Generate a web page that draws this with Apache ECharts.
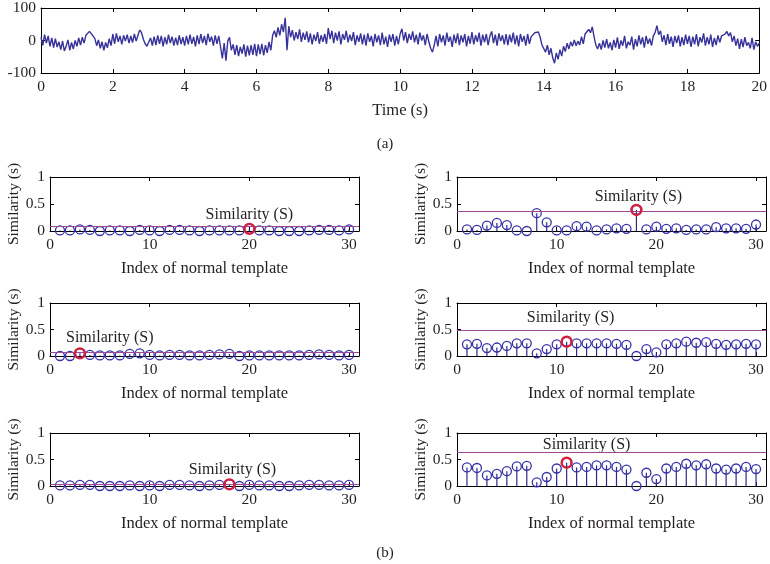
<!DOCTYPE html>
<html><head><meta charset="utf-8">
<script src="https://cdn.jsdelivr.net/npm/echarts@6/dist/echarts.min.js"></script>
<style>html,body{margin:0;padding:0;background:#fff}#c{width:770px;height:564px}</style>
</head><body><div id="c"></div>
<script>
// ---- Data ----
const signalStep = 0.05; // seconds between samples
const signal = [
 10,-15,18,-8,14,-18,8,-22,6,-20,-4,-28,-2,-32,-18,2,-30,-6,-26,0,
 -18,8,-14,10,-8,16,12,28,30,14,6,-16,2,-24,-4,-30,-6,-22,6,-16,
 20,-10,22,-4,14,-12,16,-2,18,-8,14,-6,20,-2,16,32,24,4,-10,-18,
 -20,8,-16,12,-14,16,-10,14,-18,10,-12,18,-8,12,-16,9,-14,16,-11,10,
 -16,14,-12,18,-10,11,-18,16,-11,20,-8,14,-14,21,-4,12,-16,16,-10,14,
 -20,-55,-8,-62,-2,10,-30,-12,-44,-14,-48,-20,-40,-12,-50,-16,-46,-14,-44,-10,
 -48,-12,-42,-10,-46,-14,-38,-4,-30,16,30,10,40,16,50,26,70,-30,44,10,
 32,0,26,4,34,-4,24,2,28,-6,22,-12,18,-2,26,-10,16,-4,20,-10,
 38,4,30,-8,24,0,28,-12,20,2,30,-6,18,-2,26,-14,16,-4,22,-12,
 18,-16,22,-4,14,-18,20,-6,16,-14,24,-12,12,-20,18,-4,20,-16,14,-12,
 20,36,0,26,-8,20,2,28,-6,18,-12,24,0,16,-14,20,-4,-24,-36,-14,
 14,-18,20,-6,16,-16,24,-4,12,-20,18,-8,22,-14,16,-6,20,-18,14,-10,
 26,-12,16,-4,24,-16,18,-6,20,-14,14,28,-8,18,-16,22,-2,16,-12,20,
 -14,18,-6,24,-12,16,-18,20,-4,14,-16,20,-10,12,16,24,18,26,10,-14,
 -20,-36,-14,-44,-24,-54,-70,-38,-58,-28,-48,-18,-34,-8,-26,-4,-18,2,-16,-2,
 -14,12,-10,20,14,34,24,42,12,-14,-26,-8,-28,0,-22,4,-24,-6,-30,2,
 -22,10,-26,0,-16,14,-24,-4,-14,12,-28,4,-18,16,-12,10,-22,14,-10,6,
 -16,14,24,46,18,30,-4,16,-14,20,-10,12,-20,14,-8,16,-18,10,-14,18,
 -10,14,-20,12,-12,20,-18,10,-6,22,-16,10,-12,18,-20,8,-14,16,-6,14,
 8,20,28,14,24,-4,14,-16,6,-26,4,-20,10,-16,-6,-24,8,-28,-4,-18,
 -8
];
const timeTicks = [0,2,4,6,8,10,12,14,16,18,20];
const signalYTicks = [-100,0,100];

const templateIndex = [1,2,3,4,5,6,7,8,9,10,11,12,13,14,15,16,17,18,19,20,21,22,23,24,25,26,27,28,29,30];
const simTopLeft = [0.01,0.01,0.03,0.02,0.0,0.01,0.01,0.0,0.02,0.01,0.0,0.02,0.02,0.01,0.0,0.01,0.01,0.01,0.01,0.04,0.01,0.01,0.0,0.0,0.0,0.01,0.02,0.02,0.01,0.03];
const simTopRight = [0.03,0.02,0.10,0.15,0.11,0.01,0.0,0.33,0.16,0.01,0.01,0.09,0.08,0.01,0.03,0.05,0.04,0.39,0.03,0.08,0.04,0.05,0.02,0.03,0.03,0.07,0.05,0.05,0.04,0.12];
const simMidLeft = [0.0,0.0,0.05,0.02,0.01,0.01,0.01,0.04,0.05,0.02,0.01,0.02,0.02,0.01,0.01,0.02,0.03,0.04,0.0,0.01,0.01,0.01,0.01,0.01,0.01,0.02,0.03,0.02,0.01,0.02];
const simMidRight = [0.22,0.23,0.15,0.16,0.19,0.24,0.24,0.05,0.13,0.22,0.27,0.24,0.24,0.24,0.24,0.23,0.21,0.0,0.13,0.07,0.22,0.24,0.27,0.25,0.26,0.23,0.21,0.22,0.23,0.22];
const simBotLeft = [0.01,0.01,0.02,0.02,0.0,0.0,0.0,0.01,0.0,0.01,0.0,0.02,0.02,0.01,0.0,0.01,0.02,0.03,0.0,0.02,0.01,0.01,0.0,0.0,0.01,0.02,0.02,0.01,0.01,0.02];
const simBotRight = [0.35,0.34,0.20,0.23,0.28,0.37,0.38,0.07,0.17,0.33,0.44,0.35,0.36,0.39,0.39,0.36,0.31,0.0,0.25,0.13,0.33,0.36,0.42,0.39,0.41,0.33,0.31,0.33,0.36,0.32];
const thresholds = [0.08, 0.36, 0.07, 0.49, 0.025, 0.63];
const bestMatch = [20, 18, 3, 11, 18, 11];
const labelAt = [[20,0.3],[18.2,0.63],[6,0.34],[11.4,0.73],[18.3,0.3],[13,0.77]];
const simTicks = [0,0.5,1];
const indexTicks = [0,10,20,30];

// ---- Chart ----
const FONT = 'Liberation Serif';
const TXT = '#231f20';
const panels = [simTopLeft, simTopRight, simMidLeft, simMidRight, simBotLeft, simBotRight];
const panelBoxes = [
  {left:50, top:177, h:54}, {left:457, top:177, h:54},
  {left:50, top:303, h:53}, {left:457, top:303, h:53},
  {left:50, top:433, h:53}, {left:457, top:433, h:53}
];

const grids = [{left:41, top:8, width:721, height:65}];
panelBoxes.forEach(b => grids.push({left:b.left, top:b.top, width:309, height:b.h}));

const xAxes = [], yAxes = [], series = [];
function addAxes(gi, xmin, xmax, xint, ymin, ymax, yint, xname, yname, xNameGap, yNameGap) {
  const tick = {show:true, inside:true, length:4, lineStyle:{color:'#000', width:1}};
  const line = {show:true, onZero:false, lineStyle:{color:'#000', width:1}};
  const lab = {color:TXT, fontFamily:FONT, fontSize:15.5};
  xAxes.push({type:'value', gridIndex:gi, min:xmin, max:xmax, interval:xint, position:'bottom',
    axisLine:line, axisTick:tick, splitLine:{show:false},
    axisLabel:Object.assign({margin:6, showMaxLabel: xmax % xint === 0}, lab),
    name:xname, nameLocation:'middle', nameGap:xNameGap,
    nameTextStyle:{color:TXT, fontFamily:FONT, fontSize:16.5}});
  xAxes.push({type:'value', gridIndex:gi, min:xmin, max:xmax, interval:xint, position:'top',
    axisLine:line, axisTick:tick, splitLine:{show:false}, axisLabel:{show:false}});
  yAxes.push({type:'value', gridIndex:gi, min:ymin, max:ymax, interval:yint, position:'left',
    axisLine:line, axisTick:tick, splitLine:{show:false},
    axisLabel:Object.assign({margin:5}, lab),
    name:yname, nameLocation:'middle', nameGap:yNameGap, nameRotate:90,
    nameTextStyle:{color:TXT, fontFamily:FONT, fontSize:15.5}});
  yAxes.push({type:'value', gridIndex:gi, min:ymin, max:ymax, interval:yint, position:'right',
    axisLine:line, axisTick:tick, splitLine:{show:false}, axisLabel:{show:false}});
}

addAxes(0, 0, 20, 2, -100, 100, 100, 'Time (s)', '', 29, 0);
series.push({type:'line', xAxisIndex:0, yAxisIndex:0, showSymbol:false, silent:true, animation:false,
  lineStyle:{color:'#37329a', width:1.4}, data: signal.map((v,i)=>[i*signalStep, v])});

panels.forEach((vals, p) => {
  const gi = p + 1;
  addAxes(gi, 0, 31, 10, 0, 1, 0.5, 'Index of normal template', 'Similarity (s)', 29, 25);
  const xi = gi*2, yi = gi*2;
  const pts = templateIndex.map((x,i)=>[x, vals[i]]);
  series.push({type:'custom', xAxisIndex:xi, yAxisIndex:yi, animation:false, silent:true,
    renderItem:(params, api) => {
      const a = api.coord([api.value(0), 0]);
      const b = api.coord([api.value(0), api.value(1)]);
      return {type:'line', shape:{x1:a[0], y1:a[1], x2:b[0], y2:b[1]},
        style:{stroke:'#2b2a86', lineWidth:1.2}};
    },
    data: pts,
    markLine:{silent:true, symbol:['none','none'], label:{show:false},
      lineStyle:{color:'#9c4a96', width:1.2, type:'solid'},
      data:[{yAxis: thresholds[p]}]}
  });
  series.push({type:'scatter', xAxisIndex:xi, yAxisIndex:yi, animation:false, silent:true,
    symbol:'circle', symbolSize:9,
    itemStyle:{color:'rgba(0,0,0,0)', borderColor:'#3530a8', borderWidth:1.3, opacity:1},
    data: pts});
  const hi = bestMatch[p];
  series.push({type:'scatter', xAxisIndex:xi, yAxisIndex:yi, animation:false, silent:true,
    symbol:'circle', symbolSize:10, z:5,
    itemStyle:{color:'rgba(0,0,0,0)', borderColor:'#d3203f', borderWidth:2.4, opacity:1},
    data: [[hi, vals[hi-1]]]});
  series.push({type:'scatter', xAxisIndex:xi, yAxisIndex:yi, animation:false, silent:true,
    symbolSize:0, itemStyle:{opacity:1},
    label:{show:true, position:'inside', formatter:'Similarity (S)', color:TXT, fontFamily:FONT, fontSize:16},
    data:[labelAt[p]]});
});

const chart = echarts.init(document.getElementById('c'), null, {renderer:'canvas'});
chart.setOption({
  animation:false,
  backgroundColor:'#fff',
  title:[
    {text:'(a)', left:'center', top:132, textStyle:{color:TXT, fontFamily:FONT, fontSize:15, fontWeight:'normal'}},
    {text:'(b)', left:'center', top:541, textStyle:{color:TXT, fontFamily:FONT, fontSize:15, fontWeight:'normal'}}
  ],
  grid:grids, xAxis:xAxes, yAxis:yAxes, series:series
});
</script></body></html>
